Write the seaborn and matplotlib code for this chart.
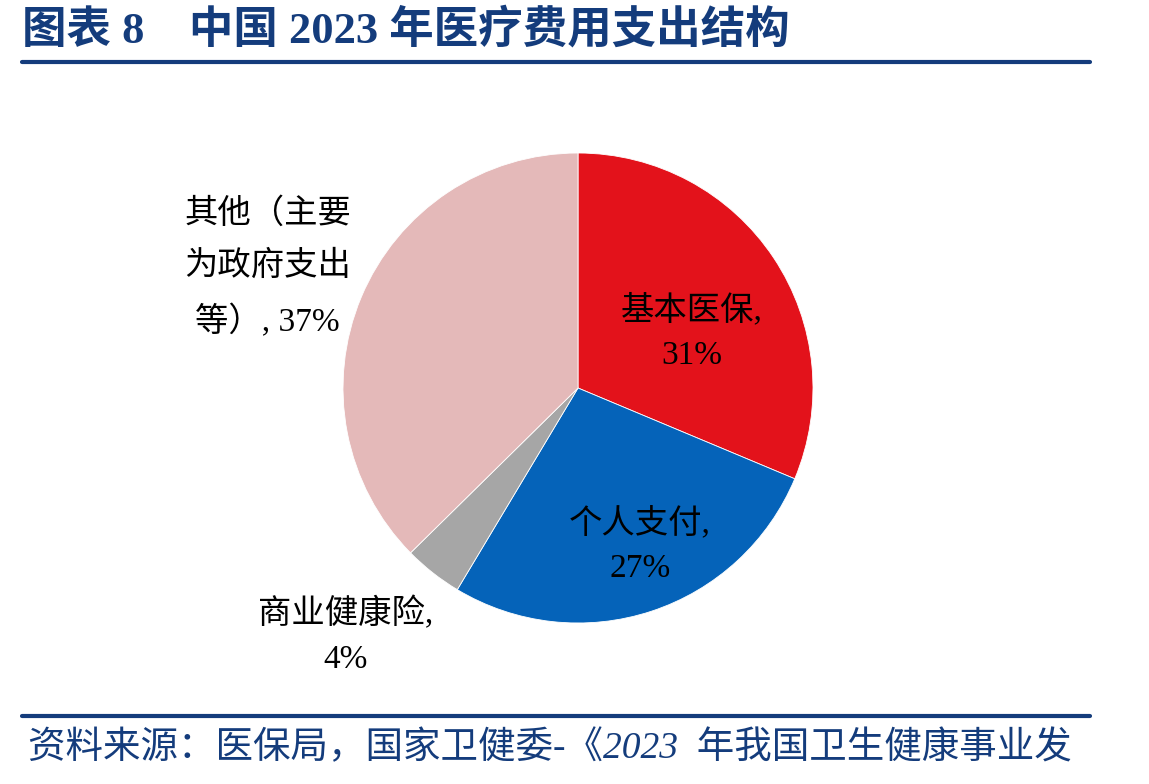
import matplotlib
matplotlib.use("Agg")
import matplotlib.pyplot as plt
import seaborn as sns
from matplotlib.lines import Line2D

# data
categories = ["基本医保", "个人支付", "商业健康险", "其他（主要为政府支出等）"]
shares = [31, 27, 4, 37]
label_texts = ["基本医保,\n31%", "个人支付,\n27%", "商业健康险,\n4%", "其他（主要\n为政府支出\n等）, 37%"]
colors = ["#E3121B", "#0563B9", "#A6A6A6", "#E4B9B9"]

title = "图表 8    中国 2023 年医疗费用支出结构"
source = "资料来源：医保局，国家卫健委-《2023  年我国卫生健康事业发"

sns.set_theme(style="white")
mixed = ["Liberation Serif", "Noto Sans CJK SC"]
plt.rcParams["font.family"] = mixed

navy = "#143C7C"
fig = plt.figure(figsize=(11.49, 7.84), dpi=100)

# title and rules
fig.text(22 / 1149, 1 - 30 / 784, title, fontsize=32, fontweight="bold", color=navy,
         va="center", ha="left", family=mixed)
fig.add_artist(Line2D([22 / 1149, 1090 / 1149], [1 - 62 / 784] * 2, color=navy, lw=3,
                      transform=fig.transFigure))
fig.add_artist(Line2D([22 / 1149, 1090 / 1149], [1 - 716 / 784] * 2, color=navy, lw=3,
                      transform=fig.transFigure))
fig.text(28 / 1149, 1 - 748 / 784, source, fontsize=27, style="italic", color=navy,
         va="center", ha="left", family=mixed)

# pie
cx, cy, r = 578, 388, 235
ax = fig.add_axes([(cx - r) / 1149, 1 - (cy + r) / 784, 2 * r / 1149, 2 * r / 784])
ax.pie(shares, colors=colors, startangle=90, counterclock=False, radius=1,
       wedgeprops=dict(linewidth=0.6, edgecolor="white"))
ax.set_xlim(-1, 1)
ax.set_ylim(-1, 1)
ax.axis("off")

# label positions (data coords of pie)
label_pos = [(0.485, 0.238), (0.264, -0.668), (-0.99, -1.055), (-1.32, 0.51)]
spacing = [1.6, 1.6, 1.6, 1.85]
for txt, (x, y), ls in zip(label_texts, label_pos, spacing):
    ax.text(x, y, txt, fontsize=24, ha="center", va="center", color="black",
            linespacing=ls, family=mixed, clip_on=False)

fig.savefig("out.png", dpi=100)
